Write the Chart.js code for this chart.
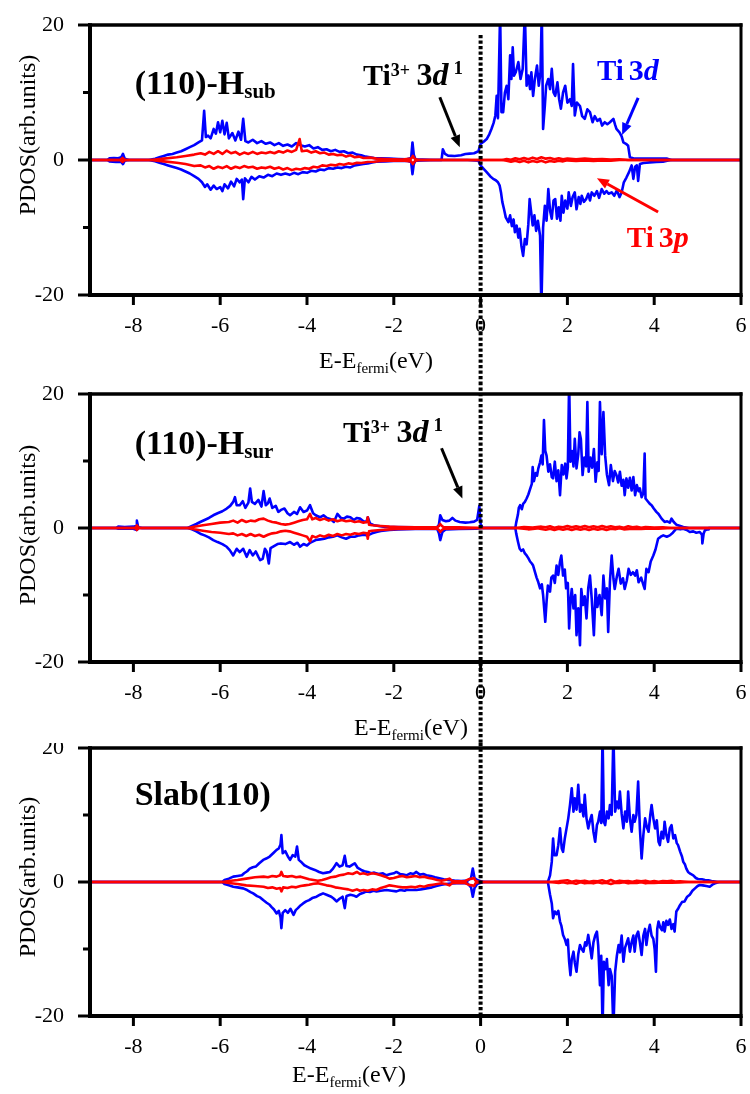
<!DOCTYPE html>
<html>
<head>
<meta charset="utf-8">
<script src="https://cdn.jsdelivr.net/npm/chart.js@4.4.1/dist/chart.umd.min.js"></script>
<style>
  html, body { margin: 0; padding: 0; background: #fff; }
  #wrap { width: 750px; height: 1094px; overflow: hidden; }
  canvas { display: block; }
</style>
</head>
<body>
<div id="wrap">
  <canvas id="c1" width="750" height="382"></canvas>
  <canvas id="c2" width="750" height="361"></canvas>
  <canvas id="c3" width="750" height="351"></canvas>
</div>
<script>
// axis ticks
const xTicks = [-8, -6, -4, -2, 0, 2, 4, 6];
const yTicks = [-20, -10, 0, 10, 20];
const yLabelled = [-20, 0, 20];

// ---- (110)-Hsub : [E - Efermi (eV), PDOS] ----
const subD_up = [[-9,0],[-8.6,0],[-8.55,0.25],[-8.45,0.3],[-8.35,0.25],[-8.28,0.4],[-8.24,0.9],[-8.2,0.2],[-8.1,0],[-7.65,0],
  [-7.5,0.2],[-7.4,0.4],[-7.3,0.6],[-7.2,0.8],[-7.1,0.9],[-7.0,1.1],[-6.9,1.3],[-6.8,1.6],[-6.7,1.9],[-6.6,2.2],[-6.5,2.6],[-6.42,2.9],[-6.37,7.3],[-6.33,3.4],[-6.28,3.6],[-6.22,3.2],[-6.15,4.6],[-6.1,3.9],[-6.05,5.6],[-6.0,4.1],[-5.95,5.8],[-5.9,3.8],[-5.85,5.5],[-5.8,3.2],[-5.72,4.0],[-5.65,2.9],[-5.58,4.2],[-5.52,3.0],[-5.47,6.1],[-5.42,2.8],[-5.35,2.6],[-5.25,3.0],[-5.15,2.5],[-5.05,2.8],[-4.95,2.4],[-4.85,2.6],[-4.75,2.2],[-4.65,2.5],[-4.55,2.1],[-4.45,2.3],[-4.35,2.0],[-4.25,2.5],[-4.15,2.2],[-4.05,2.0],[-3.95,2.2],[-3.85,1.7],[-3.75,1.9],[-3.65,1.5],[-3.55,1.6],[-3.45,1.3],[-3.35,1.5],[-3.25,1.2],[-3.15,1.3],[-3.05,1.0],[-2.95,1.1],[-2.85,0.8],[-2.75,0.7],[-2.65,0.5],[-2.55,0.4],[-2.45,0.3],[-2.3,0.25],[-2.1,0.2],[-1.9,0.15],[-1.7,0.1],[-1.6,0.3],[-1.57,2.6],[-1.54,0.8],[-1.5,0.1],[-1.0,0],[-0.9,0],[-0.87,1.6],[-0.82,0.9],[-0.75,0.65],[-0.6,0.6],[-0.45,0.7],[-0.35,0.9],[-0.25,0.95],[-0.15,1.0],[-0.05,1.3],
  [0,2.4],[0.07,2.7],[0.14,3.1],[0.2,3.8],[0.25,4.6],[0.3,5.5],[0.34,6.6],[0.37,9.5],[0.4,6.2],[0.45,22],[0.48,7.1],[0.52,7.1],[0.56,10],[0.6,11],[0.64,9],[0.68,15.5],[0.71,12],[0.74,16.7],[0.77,12.5],[0.81,13],[0.87,14.5],[0.92,12],[0.97,13.5],[1.02,22],[1.06,11],[1.1,12.5],[1.14,10.5],[1.17,13],[1.21,9.5],[1.25,12],[1.3,14],[1.34,11],[1.38,13],[1.41,22],[1.44,4.6],[1.48,8],[1.51,11],[1.56,12],[1.6,10.5],[1.64,13.5],[1.68,10],[1.72,9.5],[1.77,11.5],[1.81,9],[1.85,7.6],[1.9,10],[1.95,11],[2.0,8.5],[2.06,9],[2.1,8],[2.13,14.2],[2.17,6.6],[2.22,8.5],[2.29,8],[2.34,6.5],[2.4,6.1],[2.46,7.5],[2.52,7.1],[2.58,5.6],[2.63,6.5],[2.69,5.8],[2.75,6.1],[2.8,5.1],[2.86,5.6],[2.92,5.3],[2.98,5.6],[3.06,6.1],[3.1,5.2],[3.13,4.6],[3.2,4.1],[3.25,3.5],[3.29,2.6],[3.35,2.4],[3.4,2.1],[3.44,0.4],[3.55,0.2],[4.3,0.2],[4.4,0],[6,0]];
const subD_dn = [[-9,0],[-8.6,0],[-8.55,-0.2],[-8.4,-0.3],[-8.28,-0.3],[-8.24,-0.6],[-8.2,-0.1],[-8.1,0],[-7.65,0],
  [-7.5,-0.2],[-7.4,-0.4],[-7.3,-0.6],[-7.2,-0.8],[-7.1,-1.0],[-7.0,-1.2],[-6.9,-1.4],[-6.8,-1.7],[-6.7,-2.0],[-6.6,-2.4],[-6.5,-2.8],[-6.42,-3.3],[-6.35,-4.0],[-6.3,-3.6],[-6.22,-4.4],[-6.15,-3.8],[-6.08,-4.3],[-6.0,-4.0],[-5.95,-4.6],[-5.9,-3.6],[-5.82,-4.2],[-5.75,-3.2],[-5.68,-3.9],[-5.62,-2.8],[-5.55,-3.3],[-5.5,-2.9],[-5.47,-5.8],[-5.43,-2.7],[-5.35,-3.3],[-5.28,-2.5],[-5.2,-2.9],[-5.1,-2.4],[-5.0,-2.6],[-4.9,-2.2],[-4.8,-2.4],[-4.7,-2.0],[-4.6,-2.2],[-4.5,-2.0],[-4.4,-2.2],[-4.3,-1.9],[-4.2,-2.1],[-4.1,-1.8],[-4.0,-1.9],[-3.9,-1.6],[-3.8,-1.7],[-3.7,-1.4],[-3.6,-1.5],[-3.5,-1.2],[-3.4,-1.3],[-3.3,-1.1],[-3.2,-1.2],[-3.1,-1.0],[-3.0,-1.1],[-2.9,-0.8],[-2.8,-0.7],[-2.7,-0.6],[-2.6,-0.5],[-2.5,-0.35],[-2.4,-0.25],[-2.2,-0.2],[-2.0,-0.15],[-1.7,-0.1],[-1.6,-0.3],[-1.57,-2.1],[-1.54,-0.6],[-1.5,-0.1],[-1.0,0],[-0.3,0],[-0.05,-0.1],
  [0,-0.8],[0.07,-1.3],[0.14,-1.8],[0.22,-2.4],[0.29,-2.8],[0.35,-3.0],[0.4,-3.3],[0.44,-3.8],[0.47,-4.8],[0.5,-6.2],[0.54,-7.3],[0.58,-8.5],[0.64,-9.2],[0.68,-8.2],[0.72,-9.8],[0.76,-8.8],[0.79,-10.7],[0.83,-9.7],[0.87,-11.5],[0.9,-10.2],[0.94,-12.7],[0.98,-14.2],[1.02,-11.7],[1.06,-12.5],[1.1,-9.5],[1.13,-5.8],[1.17,-8],[1.2,-9.7],[1.24,-8.2],[1.28,-10.5],[1.32,-9],[1.37,-11.2],[1.4,-22],[1.44,-10],[1.48,-6.8],[1.52,-9],[1.56,-4.3],[1.6,-7.5],[1.64,-8.7],[1.68,-6],[1.72,-5.8],[1.76,-8.7],[1.8,-7],[1.84,-9],[1.87,-5.3],[1.91,-7.8],[1.95,-6],[2.0,-7.2],[2.03,-4.8],[2.08,-6.8],[2.12,-5.5],[2.17,-4.8],[2.21,-7.3],[2.26,-5.5],[2.3,-6.5],[2.33,-5.3],[2.38,-6.2],[2.43,-5.8],[2.48,-5.0],[2.52,-6.0],[2.56,-4.8],[2.62,-5.3],[2.68,-4.6],[2.73,-5.6],[2.79,-4.3],[2.85,-5.0],[2.9,-4.6],[2.95,-5.0],[3.02,-4.8],[3.08,-5.3],[3.14,-4.5],[3.2,-5.5],[3.25,-4.8],[3.3,-3.3],[3.36,-2.6],[3.42,-1.8],[3.48,-0.8],[3.52,-2.8],[3.56,-1.0],[3.6,-0.8],[3.63,-3.1],[3.67,-0.6],[3.75,-0.45],[3.9,-0.35],[4.05,-0.3],[4.2,-0.25],[4.3,-0.1],[4.4,0],[6,0]];
const subP_up = [[-9,0],[-8.3,0],[-8.25,0.3],[-8.2,0],[-7.6,0],[-7.3,0.2],[-7.0,0.4],[-6.8,0.6],[-6.6,0.8],[-6.45,1.0],[-6.35,0.8],[-6.25,1.2],[-6.15,0.9],[-6.05,1.3],[-5.95,0.9],[-5.85,1.4],[-5.75,1.0],[-5.65,1.2],[-5.55,0.8],[-5.45,1.1],[-5.35,0.9],[-5.25,1.2],[-5.15,0.9],[-5.05,1.1],[-4.95,1.0],[-4.85,1.2],[-4.75,1.0],[-4.65,1.3],[-4.55,1.1],[-4.45,1.4],[-4.35,1.2],[-4.25,1.5],[-4.17,3.1],[-4.12,1.3],[-4.0,1.4],[-3.9,1.1],[-3.8,1.3],[-3.7,1.0],[-3.6,1.1],[-3.5,0.8],[-3.4,0.9],[-3.3,0.7],[-3.2,0.8],[-3.1,0.5],[-3.0,0.7],[-2.9,0.4],[-2.8,0.5],[-2.7,0.3],[-2.55,0.35],[-2.4,0.2],[-2.2,0.15],[-2.0,0.1],[-1.8,0.05],[-1.6,0.2],[-1.56,0.6],[-1.52,0.2],[-1.45,0],[0,0],
  [0.5,0],[0.6,0.15],[0.7,0.05],[0.8,0.25],[0.9,0.1],[1.0,0.3],[1.1,0.1],[1.2,0.35],[1.3,0.15],[1.4,0.4],[1.5,0.2],[1.6,0.3],[1.7,0.1],[1.8,0.25],[1.9,0.1],[2.0,0.2],[2.2,0.1],[2.4,0.2],[2.6,0.1],[2.8,0.15],[3.0,0.05],[3.2,0.1],[3.4,0],[6,0]];
const subP_dn = [[-9,0],[-8.3,0],[-8.25,-0.3],[-8.2,0],[-7.6,0],[-7.3,-0.2],[-7.0,-0.4],[-6.8,-0.6],[-6.6,-0.9],[-6.45,-0.8],[-6.35,-1.1],[-6.25,-0.9],[-6.15,-1.3],[-6.05,-1.0],[-5.95,-1.2],[-5.85,-0.9],[-5.75,-1.3],[-5.65,-1.0],[-5.55,-1.2],[-5.45,-0.9],[-5.35,-1.1],[-5.25,-1.0],[-5.15,-1.3],[-5.05,-1.1],[-4.95,-1.2],[-4.85,-1.0],[-4.75,-1.3],[-4.65,-1.1],[-4.55,-1.4],[-4.45,-1.2],[-4.35,-1.5],[-4.25,-1.3],[-4.15,-1.4],[-4.05,-1.2],[-3.95,-1.3],[-3.85,-1.0],[-3.75,-1.1],[-3.65,-0.8],[-3.55,-0.9],[-3.45,-0.7],[-3.35,-0.8],[-3.25,-0.6],[-3.15,-0.7],[-3.05,-0.5],[-2.95,-0.6],[-2.85,-0.4],[-2.75,-0.45],[-2.6,-0.3],[-2.45,-0.25],[-2.3,-0.15],[-2.1,-0.1],[-1.8,-0.05],[-1.6,-0.2],[-1.56,-0.6],[-1.52,-0.2],[-1.45,0],[0,0],
  [0.5,0],[0.6,-0.1],[0.7,-0.25],[0.8,-0.1],[0.9,-0.3],[1.0,-0.1],[1.1,-0.35],[1.2,-0.15],[1.3,-0.3],[1.4,-0.1],[1.5,-0.35],[1.6,-0.15],[1.7,-0.25],[1.8,-0.1],[1.9,-0.2],[2.0,-0.05],[2.2,-0.15],[2.4,-0.05],[2.6,-0.15],[2.8,-0.05],[3.0,-0.1],[3.2,0],[6,0]];

// ---- (110)-Hsur ----
const surD_up = [[-9,0],[-8.4,0],[-8.35,0.2],[-8.2,0.15],[-8.0,0.2],[-7.94,0.3],[-7.92,1.1],[-7.89,0.1],[-7.8,0],[-6.75,0],[-6.65,0.3],[-6.55,0.6],[-6.46,0.9],[-6.36,1.2],[-6.26,1.5],[-6.16,1.9],[-6.06,2.2],[-5.95,2.5],[-5.85,2.9],[-5.77,3.3],[-5.7,3.9],[-5.66,4.6],[-5.62,3.4],[-5.55,3.4],[-5.48,4.0],[-5.42,3.0],[-5.35,3.8],[-5.31,5.9],[-5.27,3.9],[-5.2,3.6],[-5.12,4.2],[-5.05,3.2],[-5.0,5.5],[-4.95,3.4],[-4.9,3.7],[-4.86,4.4],[-4.8,3.0],[-4.72,3.3],[-4.66,2.4],[-4.6,2.7],[-4.52,2.9],[-4.45,2.2],[-4.39,1.9],[-4.3,2.4],[-4.23,2.1],[-4.16,3.1],[-4.08,2.4],[-4.0,2.6],[-3.93,3.4],[-3.86,2.2],[-3.8,1.9],[-3.7,1.6],[-3.62,1.9],[-3.54,1.5],[-3.45,1.3],[-3.38,0.9],[-3.3,2.1],[-3.22,1.5],[-3.15,1.4],[-3.08,1.7],[-3.0,1.6],[-2.92,1.2],[-2.85,1.5],[-2.78,1.4],[-2.7,1.0],[-2.63,0.9],[-2.6,1.6],[-2.55,0.7],[-2.45,0.4],[-2.35,0.3],[-2.2,0.15],[-2.0,0.15],[-1.5,0.1],[-1.0,0.15],[-0.96,0.5],[-0.93,1.9],[-0.88,1.2],[-0.8,1.0],[-0.72,1.1],[-0.65,1.5],[-0.58,1.1],[-0.48,0.9],[-0.35,0.8],[-0.25,0.85],[-0.15,0.95],[-0.08,1.2],[-0.03,3.3],[0.0,0.6],[0.05,0],[0.8,0],
  [0.82,0.8],[0.86,2.0],[0.88,3.0],[0.91,3.4],[0.95,2.8],[0.98,3.6],[1.02,3.9],[1.06,4.4],[1.1,5.0],[1.14,5.8],[1.18,6.6],[1.2,9.1],[1.23,7.0],[1.27,8.2],[1.3,7.8],[1.33,8.9],[1.37,9.8],[1.4,10.8],[1.43,9.5],[1.46,16.1],[1.49,11.5],[1.52,10.8],[1.56,8.4],[1.6,9.5],[1.64,7.6],[1.67,7.4],[1.71,9.9],[1.75,7.0],[1.79,8.6],[1.83,4.9],[1.87,9.4],[1.91,8.0],[1.95,9.6],[1.98,7.4],[2.01,9.0],[2.04,22],[2.07,9.9],[2.11,11.5],[2.14,9.2],[2.17,13.3],[2.21,8.9],[2.25,11.0],[2.28,14.3],[2.31,13.3],[2.35,7.9],[2.39,10.5],[2.43,9.2],[2.46,18.8],[2.49,8.4],[2.53,10.5],[2.57,9.0],[2.61,11.8],[2.65,6.9],[2.69,9.8],[2.72,8.5],[2.75,18.8],[2.79,11],[2.83,17.3],[2.87,10.8],[2.91,8.0],[2.96,6.4],[3.0,9.4],[3.05,7.0],[3.09,8.5],[3.13,7.9],[3.17,6.8],[3.21,8.4],[3.25,6.3],[3.29,7.2],[3.32,4.9],[3.36,7.4],[3.4,6.0],[3.44,7.5],[3.48,5.6],[3.52,7.6],[3.56,4.9],[3.6,6.4],[3.64,5.5],[3.67,5.9],[3.71,4.6],[3.75,5.2],[3.78,11.1],[3.8,4.4],[3.85,4.0],[3.9,3.6],[3.94,3.4],[3.99,2.9],[4.05,2.4],[4.1,2.1],[4.17,1.4],[4.24,0.9],[4.3,1.0],[4.36,0.8],[4.4,1.4],[4.45,0.9],[4.51,0.5],[4.6,0.3],[4.67,0.15],[4.8,0],[6,0]];
const surD_dn = [[-9,0],[-8.4,0],[-8.35,-0.1],[-8.0,-0.1],[-7.92,-0.3],[-7.88,0],[-6.75,0],[-6.65,-0.2],[-6.55,-0.5],[-6.46,-0.85],[-6.36,-1.1],[-6.26,-1.4],[-6.16,-1.8],[-6.06,-2.1],[-5.95,-2.4],[-5.85,-2.8],[-5.78,-3.3],[-5.7,-4.1],[-5.62,-3.1],[-5.55,-3.6],[-5.47,-3.1],[-5.39,-4.3],[-5.32,-3.3],[-5.25,-4.1],[-5.18,-3.5],[-5.12,-4.3],[-5.08,-4.8],[-5.02,-4.6],[-4.97,-3.1],[-4.93,-3.5],[-4.88,-5.3],[-4.84,-3.0],[-4.76,-2.7],[-4.68,-2.4],[-4.6,-2.3],[-4.5,-2.4],[-4.39,-2.1],[-4.3,-2.5],[-4.22,-2.2],[-4.16,-2.8],[-4.08,-2.4],[-4.0,-2.6],[-3.93,-2.2],[-3.86,-2.0],[-3.8,-1.8],[-3.7,-1.7],[-3.6,-1.6],[-3.5,-1.4],[-3.4,-1.3],[-3.3,-1.1],[-3.2,-1.4],[-3.1,-1.6],[-3.0,-1.3],[-2.9,-1.3],[-2.8,-1.1],[-2.7,-1.0],[-2.6,-1.1],[-2.5,-0.8],[-2.4,-0.6],[-2.3,-0.45],[-2.1,-0.3],[-1.9,-0.2],[-1.5,-0.15],[-1.0,-0.15],[-0.96,-0.8],[-0.93,-1.8],[-0.88,-0.6],[-0.8,-0.2],[-0.5,-0.15],[-0.1,-0.1],[0.05,0],[0.8,0],
  [0.82,-0.8],[0.86,-2.0],[0.9,-3.1],[0.94,-3.4],[0.98,-3.2],[1.02,-3.8],[1.06,-4.1],[1.1,-4.5],[1.14,-5.0],[1.18,-5.3],[1.21,-5.6],[1.25,-6.5],[1.29,-7.4],[1.33,-8.1],[1.37,-9.0],[1.41,-8.4],[1.44,-10],[1.49,-14],[1.52,-11],[1.55,-8.6],[1.6,-9.5],[1.63,-7.4],[1.67,-7.1],[1.71,-8.2],[1.75,-5.6],[1.79,-7.0],[1.83,-5.0],[1.86,-4.1],[1.9,-7.1],[1.94,-6.2],[1.97,-9.0],[2.01,-8.2],[2.04,-15],[2.07,-11],[2.1,-9.1],[2.14,-12],[2.18,-10],[2.21,-16],[2.25,-12],[2.29,-17.5],[2.32,-9.1],[2.36,-11.5],[2.4,-10.2],[2.44,-13.5],[2.48,-9.0],[2.52,-7.1],[2.56,-10.5],[2.61,-16],[2.65,-9.1],[2.69,-11.8],[2.74,-10],[2.79,-13],[2.83,-7.1],[2.87,-10.5],[2.91,-9],[2.94,-15.5],[2.98,-8],[3.02,-4.1],[3.06,-7.5],[3.09,-9.1],[3.14,-7.2],[3.18,-6.1],[3.23,-8.3],[3.28,-7.5],[3.32,-9.1],[3.37,-7.8],[3.41,-6.1],[3.46,-7.0],[3.51,-6.6],[3.56,-7.1],[3.6,-6.3],[3.64,-8.1],[3.7,-7.4],[3.75,-8.5],[3.78,-9.1],[3.82,-6.1],[3.87,-6.6],[3.92,-5.0],[3.98,-4.1],[4.03,-3.2],[4.09,-1.6],[4.15,-1.3],[4.21,-1.1],[4.29,-1.3],[4.36,-1.1],[4.43,-0.7],[4.51,-0.1],[4.6,-0.2],[4.67,-0.1],[4.75,-0.3],[4.82,-0.6],[4.9,-0.5],[4.97,-0.7],[5.05,-0.6],[5.1,-1.0],[5.11,-2.3],[5.14,-0.8],[5.17,-0.35],[5.24,-0.2],[5.26,0],[6,0]];
const surP_up = [[-9,0],[-7.95,0],[-7.92,0.4],[-7.88,0],[-6.75,0],[-6.6,0.2],[-6.4,0.4],[-6.2,0.6],[-6.0,0.8],[-5.8,0.9],[-5.7,1.1],[-5.6,0.8],[-5.5,1.2],[-5.4,0.9],[-5.3,1.1],[-5.2,1.0],[-5.1,1.3],[-5.0,1.4],[-4.9,1.1],[-4.8,0.9],[-4.7,0.8],[-4.6,0.6],[-4.5,0.5],[-4.4,0.6],[-4.3,0.8],[-4.2,1.0],[-4.1,1.2],[-4.0,1.3],[-3.93,2.1],[-3.88,1.3],[-3.8,1.5],[-3.7,1.2],[-3.6,1.4],[-3.5,1.1],[-3.4,1.3],[-3.3,1.0],[-3.2,1.2],[-3.1,1.0],[-3.0,1.1],[-2.9,0.9],[-2.8,1.0],[-2.7,0.8],[-2.62,0.9],[-2.6,1.6],[-2.57,0.5],[-2.5,0.4],[-2.3,0.3],[-2.1,0.2],[-1.9,0.15],[-1.5,0.1],[-1.0,0.1],[-0.96,0.3],[-0.93,0.6],[-0.89,0.3],[-0.85,0.1],[-0.5,0.1],[0,0],[0.8,0],
  [1.0,0.15],[1.2,0.05],[1.4,0.2],[1.5,0.1],[1.6,0.25],[1.7,0.05],[1.8,0.2],[1.9,0.1],[2.0,0.3],[2.1,0.1],[2.2,0.25],[2.3,0.1],[2.4,0.3],[2.5,0.1],[2.6,0.25],[2.7,0.1],[2.8,0.3],[2.9,0.1],[3.0,0.25],[3.1,0.1],[3.2,0.2],[3.3,0.05],[3.4,0.25],[3.5,0.1],[3.6,0.2],[3.7,0.05],[3.8,0.15],[4.0,0.05],[4.2,0.1],[4.4,0],[6,0]];
const surP_dn = [[-9,0],[-7.95,0],[-7.92,-0.3],[-7.88,0],[-6.75,0],[-6.6,-0.2],[-6.4,-0.4],[-6.2,-0.6],[-6.0,-0.7],[-5.8,-0.9],[-5.7,-0.8],[-5.6,-1.1],[-5.5,-0.9],[-5.4,-1.2],[-5.3,-0.9],[-5.2,-1.2],[-5.1,-1.0],[-5.0,-1.3],[-4.9,-1.0],[-4.8,-0.8],[-4.7,-0.7],[-4.6,-0.5],[-4.5,-0.4],[-4.4,-0.5],[-4.3,-0.7],[-4.2,-0.9],[-4.1,-1.1],[-4.0,-1.3],[-3.93,-2.0],[-3.88,-1.2],[-3.8,-1.4],[-3.7,-1.1],[-3.6,-1.3],[-3.5,-1.0],[-3.4,-1.2],[-3.3,-0.9],[-3.2,-1.1],[-3.1,-0.9],[-3.0,-1.0],[-2.9,-0.8],[-2.8,-0.9],[-2.7,-0.7],[-2.62,-0.8],[-2.6,-1.6],[-2.57,-0.5],[-2.5,-0.4],[-2.3,-0.3],[-2.1,-0.2],[-1.9,-0.15],[-1.5,-0.1],[-1.0,-0.1],[-0.96,-0.3],[-0.93,-0.6],[-0.89,-0.3],[-0.85,-0.1],[-0.5,-0.05],[0,0],[0.8,0],
  [1.0,-0.1],[1.1,-0.2],[1.3,-0.05],[1.5,-0.25],[1.6,-0.1],[1.7,-0.3],[1.8,-0.1],[1.9,-0.25],[2.0,-0.1],[2.1,-0.3],[2.2,-0.1],[2.3,-0.25],[2.4,-0.1],[2.5,-0.3],[2.6,-0.1],[2.7,-0.25],[2.8,-0.1],[2.9,-0.3],[3.0,-0.1],[3.1,-0.2],[3.2,-0.05],[3.3,-0.2],[3.5,-0.1],[3.7,-0.15],[3.9,-0.05],[4.1,-0.1],[4.4,0],[6,0]];

// ---- Slab(110) ----
const slabD_up = [[-9,0],[-5.95,0],[-5.9,0.3],[-5.8,0.5],[-5.7,0.8],[-5.6,0.9],[-5.5,1.0],[-5.45,1.3],[-5.38,1.6],[-5.32,2.0],[-5.25,2.2],[-5.18,2.3],[-5.1,2.8],[-5.01,3.3],[-4.94,3.5],[-4.86,3.8],[-4.78,4.3],[-4.7,4.8],[-4.65,5.0],[-4.61,5.6],[-4.59,7.0],[-4.56,4.3],[-4.5,4.6],[-4.44,3.8],[-4.39,3.3],[-4.33,4.0],[-4.27,3.8],[-4.23,5.3],[-4.19,3.3],[-4.12,2.9],[-4.06,2.5],[-4.0,2.3],[-3.91,2.0],[-3.82,1.8],[-3.72,1.5],[-3.63,1.3],[-3.55,1.4],[-3.47,1.5],[-3.4,2.0],[-3.32,2.8],[-3.25,2.3],[-3.18,2.5],[-3.13,3.9],[-3.09,2.4],[-3.02,2.3],[-2.95,2.6],[-2.9,2.8],[-2.83,2.1],[-2.75,1.8],[-2.68,1.6],[-2.6,1.5],[-2.52,1.3],[-2.45,1.4],[-2.35,1.2],[-2.25,1.3],[-2.17,1.0],[-2.08,1.2],[-2.0,1.3],[-1.94,1.5],[-1.86,1.2],[-1.78,1.1],[-1.71,1.0],[-1.62,1.3],[-1.55,1.2],[-1.48,1.5],[-1.4,1.1],[-1.32,1.2],[-1.25,1.0],[-1.15,0.9],[-1.05,0.7],[-0.95,0.55],[-0.85,0.4],[-0.75,0.3],[-0.6,0.2],[-0.45,0.15],[-0.3,0.2],[-0.22,0.6],[-0.18,2.0],[-0.14,0.6],[-0.08,0.3],[0,0.1],[0.1,0],[1.55,0],
  [1.6,1.0],[1.64,3.0],[1.67,6.5],[1.7,4.0],[1.75,4.0],[1.79,5.5],[1.83,8.0],[1.87,5.0],[1.9,4.5],[1.94,6.5],[1.98,8.0],[2.02,9.5],[2.06,11.5],[2.1,14.0],[2.14,10.5],[2.17,12.5],[2.21,10.8],[2.25,14.5],[2.29,10.5],[2.33,11.5],[2.37,9.8],[2.4,13.0],[2.44,9.5],[2.48,8.0],[2.52,9.2],[2.56,10.0],[2.6,7.5],[2.64,6.0],[2.68,8.5],[2.71,9.0],[2.75,10.5],[2.78,8.8],[2.81,22],[2.84,9.0],[2.87,8.5],[2.91,10.5],[2.95,9.5],[2.98,11.5],[3.02,10.0],[3.06,22],[3.1,10.5],[3.14,12.0],[3.18,11.0],[3.21,13.5],[3.25,10.2],[3.29,8.0],[3.33,10.5],[3.37,9.0],[3.4,13.5],[3.44,9.5],[3.48,7.5],[3.52,10.0],[3.55,9.0],[3.59,10.0],[3.63,15.0],[3.67,8.0],[3.71,3.5],[3.75,7.0],[3.79,9.5],[3.83,8.2],[3.87,7.5],[3.91,10.0],[3.94,11.5],[3.98,9.5],[4.02,8.0],[4.06,9.2],[4.1,6.0],[4.13,5.5],[4.17,7.5],[4.21,6.5],[4.24,9.0],[4.28,7.0],[4.32,6.0],[4.36,8.0],[4.4,8.5],[4.44,6.5],[4.48,7.0],[4.52,5.8],[4.55,5.5],[4.6,4.5],[4.64,3.8],[4.67,3.0],[4.71,2.6],[4.74,2.0],[4.78,1.5],[4.84,1.2],[4.9,1.0],[4.96,0.6],[5.01,0.45],[5.1,0.4],[5.17,0.3],[5.25,0.25],[5.32,0.15],[5.44,0.05],[5.5,0],[6,0]];
const slabD_dn = [[-9,0],[-5.95,0],[-5.9,-0.3],[-5.8,-0.5],[-5.7,-0.7],[-5.6,-0.8],[-5.47,-0.95],[-5.38,-1.2],[-5.3,-1.5],[-5.24,-1.7],[-5.15,-2.1],[-5.08,-2.3],[-5.01,-2.7],[-4.93,-3.1],[-4.86,-3.4],[-4.82,-3.7],[-4.76,-4.1],[-4.7,-4.7],[-4.65,-4.3],[-4.61,-5.3],[-4.59,-6.9],[-4.56,-4.6],[-4.5,-4.2],[-4.44,-4.6],[-4.38,-4.0],[-4.31,-4.9],[-4.26,-4.2],[-4.21,-3.9],[-4.15,-3.5],[-4.09,-3.2],[-4.02,-2.9],[-3.95,-2.7],[-3.88,-2.4],[-3.78,-2.2],[-3.7,-1.9],[-3.63,-1.7],[-3.55,-1.9],[-3.44,-2.2],[-3.38,-2.5],[-3.32,-2.9],[-3.25,-2.5],[-3.18,-2.2],[-3.13,-3.9],[-3.09,-2.1],[-3.0,-1.9],[-2.93,-2.0],[-2.86,-2.2],[-2.78,-1.8],[-2.7,-1.6],[-2.63,-1.4],[-2.55,-1.5],[-2.47,-1.3],[-2.4,-1.4],[-2.3,-1.3],[-2.17,-1.2],[-2.05,-1.3],[-1.94,-1.4],[-1.85,-1.2],[-1.75,-1.3],[-1.71,-1.2],[-1.6,-1.2],[-1.48,-1.2],[-1.38,-1.1],[-1.25,-0.95],[-1.12,-0.8],[-1.02,-0.6],[-0.9,-0.4],[-0.79,-0.3],[-0.65,-0.2],[-0.45,-0.15],[-0.3,-0.2],[-0.22,-0.8],[-0.18,-2.2],[-0.14,-0.9],[-0.08,-0.3],[0,-0.1],[0.1,0],[1.55,0],
  [1.6,-1.9],[1.64,-3.2],[1.67,-5.4],[1.71,-4.4],[1.75,-4.8],[1.79,-4.3],[1.83,-5.9],[1.86,-6.5],[1.9,-7.9],[1.94,-8.5],[1.98,-9.4],[2.01,-8.6],[2.04,-11.9],[2.07,-13.9],[2.1,-11.5],[2.14,-10.4],[2.17,-12.0],[2.21,-13.4],[2.25,-10.8],[2.29,-9.4],[2.33,-10.0],[2.37,-10.4],[2.41,-9.0],[2.44,-9.5],[2.48,-7.9],[2.52,-9.6],[2.56,-11.4],[2.6,-9.0],[2.64,-8.0],[2.68,-7.4],[2.71,-9.5],[2.75,-15.4],[2.78,-11.0],[2.81,-22],[2.84,-11.9],[2.88,-13.0],[2.91,-11.5],[2.95,-15.4],[2.98,-13.0],[3.02,-14.0],[3.06,-22],[3.1,-13.4],[3.14,-11.0],[3.18,-9.4],[3.21,-10.5],[3.25,-8.0],[3.29,-11.9],[3.33,-9.8],[3.37,-9.0],[3.4,-8.4],[3.44,-10.4],[3.48,-9.0],[3.52,-8.0],[3.55,-10.4],[3.59,-8.0],[3.63,-7.4],[3.67,-9.0],[3.71,-10.9],[3.75,-8.0],[3.79,-7.0],[3.82,-9.4],[3.86,-7.5],[3.9,-6.4],[3.94,-8.0],[3.98,-8.5],[4.01,-10.0],[4.04,-13.4],[4.07,-7.0],[4.1,-5.9],[4.14,-6.8],[4.18,-7.2],[4.21,-6.0],[4.24,-7.4],[4.28,-5.8],[4.32,-6.4],[4.36,-5.6],[4.4,-7.0],[4.44,-6.3],[4.47,-7.4],[4.51,-4.4],[4.55,-4.0],[4.59,-3.5],[4.64,-3.0],[4.7,-2.9],[4.76,-2.2],[4.82,-1.9],[4.88,-1.3],[4.94,-0.95],[5.0,-0.6],[5.05,-0.45],[5.12,-0.5],[5.2,-0.6],[5.28,-0.7],[5.34,-0.4],[5.4,-0.2],[5.44,-0.1],[5.5,0],[6,0]];
const slabP_up = [[-9,0],[-5.95,0],[-5.8,0.15],[-5.6,0.3],[-5.4,0.5],[-5.2,0.7],[-5.0,0.8],[-4.9,0.7],[-4.8,0.9],[-4.7,0.8],[-4.62,1.0],[-4.59,1.5],[-4.55,0.9],[-4.45,0.8],[-4.35,0.9],[-4.25,0.7],[-4.15,0.8],[-4.05,0.6],[-3.95,0.4],[-3.85,0.3],[-3.75,0.2],[-3.65,0.3],[-3.55,0.5],[-3.45,0.7],[-3.35,0.8],[-3.25,1.0],[-3.15,1.1],[-3.05,1.3],[-2.95,1.2],[-2.85,1.5],[-2.78,1.2],[-2.7,1.3],[-2.6,1.1],[-2.5,1.3],[-2.4,1.2],[-2.3,1.0],[-2.2,0.8],[-2.1,0.5],[-2.0,0.6],[-1.9,0.8],[-1.8,0.9],[-1.7,0.7],[-1.6,0.8],[-1.5,0.9],[-1.4,0.7],[-1.3,0.8],[-1.2,0.6],[-1.1,0.5],[-1.0,0.3],[-0.9,0.2],[-0.8,0.35],[-0.72,0.5],[-0.65,0.15],[-0.5,0.1],[-0.35,0.15],[-0.28,0.4],[-0.2,0.5],[-0.15,0.6],[-0.12,0.2],[-0.05,0],[1.6,0],
  [1.8,0.1],[2.0,0.25],[2.1,0.05],[2.2,0.2],[2.3,0.1],[2.4,0.2],[2.5,0.05],[2.6,0.15],[2.7,0.1],[2.8,0.25],[2.9,0.05],[3.0,0.3],[3.1,0.05],[3.2,0.2],[3.3,0.1],[3.4,0.15],[3.5,0.05],[3.6,0.2],[3.7,0.1],[3.8,0.2],[3.9,0.05],[4.0,0.15],[4.1,0.05],[4.2,0.15],[4.3,0.1],[4.4,0.2],[4.5,0.05],[4.6,0.1],[4.8,0],[6,0]];
const slabP_dn = [[-9,0],[-5.95,0],[-5.8,-0.15],[-5.6,-0.3],[-5.4,-0.5],[-5.2,-0.6],[-5.0,-0.7],[-4.9,-0.9],[-4.8,-0.8],[-4.7,-1.0],[-4.62,-0.9],[-4.59,-1.4],[-4.55,-0.8],[-4.45,-0.9],[-4.35,-0.7],[-4.25,-0.8],[-4.15,-0.6],[-4.05,-0.5],[-3.95,-0.4],[-3.85,-0.25],[-3.75,-0.2],[-3.65,-0.35],[-3.55,-0.5],[-3.45,-0.6],[-3.35,-0.8],[-3.25,-0.9],[-3.15,-1.0],[-3.05,-1.1],[-2.95,-1.3],[-2.85,-1.1],[-2.78,-1.3],[-2.7,-1.2],[-2.6,-1.3],[-2.5,-1.1],[-2.4,-1.2],[-2.3,-0.9],[-2.2,-0.7],[-2.1,-0.5],[-2.0,-0.6],[-1.9,-0.7],[-1.8,-0.8],[-1.7,-0.8],[-1.6,-0.7],[-1.5,-0.8],[-1.4,-0.6],[-1.3,-0.7],[-1.2,-0.5],[-1.1,-0.4],[-1.0,-0.3],[-0.9,-0.2],[-0.8,-0.3],[-0.72,-0.5],[-0.65,-0.15],[-0.5,-0.1],[-0.35,-0.15],[-0.28,-0.4],[-0.2,-0.5],[-0.15,-0.6],[-0.12,-0.2],[-0.05,0],[1.6,0],
  [1.8,-0.15],[1.9,-0.05],[2.0,-0.2],[2.1,-0.1],[2.2,-0.25],[2.3,-0.05],[2.4,-0.2],[2.5,-0.1],[2.6,-0.2],[2.7,-0.05],[2.8,-0.2],[2.9,-0.1],[3.0,-0.3],[3.1,-0.1],[3.2,-0.15],[3.3,-0.05],[3.4,-0.2],[3.5,-0.1],[3.6,-0.15],[3.7,-0.05],[3.8,-0.2],[3.9,-0.1],[4.0,-0.15],[4.2,-0.05],[4.4,-0.1],[4.6,-0.05],[4.8,0],[6,0]];

const BLUE = '#0000ff';
const RED = '#ff0000';
const SERIF = '"Liberation Serif", "Times New Roman", "DejaVu Serif", serif';
const B = s => 'bold ' + s + 'px ' + SERIF;
const BI = s => 'italic bold ' + s + 'px ' + SERIF;
const R = s => s + 'px ' + SERIF;

function seg(ctx, x1, y1, x2, y2, w) {
  ctx.lineWidth = w;
  ctx.beginPath();
  ctx.moveTo(x1, y1);
  ctx.lineTo(x2, y2);
  ctx.stroke();
}

// runs: [text, font, baseline shift]
function richText(ctx, x, y, runs, color, center) {
  ctx.fillStyle = color;
  ctx.textAlign = 'left';
  ctx.textBaseline = 'alphabetic';
  let w = 0;
  runs.forEach(r => { ctx.font = r[1]; w += ctx.measureText(r[0]).width; });
  let cx = center ? x - w / 2 : x;
  runs.forEach(r => {
    ctx.font = r[1];
    ctx.fillText(r[0], cx, y + (r[2] || 0));
    cx += ctx.measureText(r[0]).width;
  });
}

function arrow(ctx, x1, y1, x2, y2, color) {
  const ang = Math.atan2(y2 - y1, x2 - x1);
  const hl = 12, hw = 5;
  const bx = x2 - hl * Math.cos(ang), by = y2 - hl * Math.sin(ang);
  ctx.strokeStyle = color;
  ctx.fillStyle = color;
  ctx.lineCap = 'butt';
  seg(ctx, x1, y1, bx, by, 3);
  ctx.beginPath();
  ctx.moveTo(x2, y2);
  ctx.lineTo(bx + hw * Math.sin(ang), by - hw * Math.cos(ang));
  ctx.lineTo(bx - hw * Math.sin(ang), by + hw * Math.cos(ang));
  ctx.closePath();
  ctx.fill();
}

function makeDecor(p) {
  return {
    id: 'decor',
    afterDraw(chart) {
      const { ctx, chartArea: a, scales } = chart;
      const X = v => scales.x.getPixelForValue(v);
      const Y = v => scales.y.getPixelForValue(v);
      ctx.save();
      ctx.strokeStyle = '#000';
      ctx.lineCap = 'butt';
      // frame
      seg(ctx, a.left, a.top - 1.75, a.left, a.bottom + 2, 4);
      seg(ctx, a.left - 2, a.bottom, a.right + 1.5, a.bottom, 4);
      seg(ctx, a.left - 2, a.top, a.right + 1.5, a.top, 3.5);
      seg(ctx, a.right, a.top - 1.75, a.right, a.bottom + 2, 3);
      // tick marks
      yTicks.forEach(v => seg(ctx, a.left - (yLabelled.includes(v) ? 12 : 7), Y(v), a.left, Y(v), 3));
      xTicks.forEach(v => seg(ctx, X(v), a.bottom, X(v), a.bottom + 10, 3));
      // dotted Fermi level
      ctx.setLineDash([3.3, 2.2]);
      const d0 = p.dotFromCanvasTop ? 0 : a.top + 10;
      const d1 = p.dotToCanvasBottom ? chart.height : a.bottom;
      seg(ctx, X(0), d0, X(0), d1, 4);
      ctx.setLineDash([]);
      // axis titles
      ctx.save();
      ctx.translate(29, (a.top + a.bottom) / 2 + p.yTitleShift);
      ctx.rotate(-Math.PI / 2);
      ctx.fillStyle = '#000';
      ctx.font = R(24);
      ctx.textAlign = 'center';
      ctx.textBaseline = 'middle';
      ctx.fillText('PDOS(arb.units)', 0, 0);
      ctx.restore();
      richText(ctx, (a.left + a.right) / 2 + p.xTitleShift, a.bottom + p.xTitleDrop,
        [['E-E', R(24)], ['fermi', R(15), 5], ['(eV)', R(24)]], '#000', true);
      // panel label
      richText(ctx, X(p.label.at[0]), Y(p.label.at[1]), p.label.runs, '#000', false);
      // annotations
      (p.notes || []).forEach(n => richText(ctx, X(n.at[0]), Y(n.at[1]), n.runs, n.color, false));
      (p.arrows || []).forEach(r => arrow(ctx, X(r.from[0]), Y(r.from[1]), X(r.to[0]), Y(r.to[1]), r.color));
      ctx.restore();
    }
  };
}

function ds(pts, color, order) {
  return {
    data: pts.map(q => ({ x: q[0], y: q[1] })),
    borderColor: color,
    borderWidth: 2.6,
    borderJoinStyle: 'round',
    pointRadius: 0,
    tension: 0,
    fill: false,
    order: order
  };
}

function makeChart(id, p) {
  const canvas = document.getElementById(id);
  return new Chart(canvas, {
    type: 'line',
    data: {
      datasets: [
        ds(p.pUp, RED, 0), ds(p.pDn, RED, 0),
        ds(p.dUp, BLUE, 1), ds(p.dDn, BLUE, 1)
      ]
    },
    options: {
      responsive: false,
      animation: false,
      devicePixelRatio: 1,
      layout: { padding: { top: p.top, right: 9, left: 0, bottom: 0 } },
      plugins: { legend: { display: false }, tooltip: { enabled: false } },
      scales: {
        x: {
          type: 'linear', min: -9, max: 6,
          grid: { display: false }, border: { display: false },
          afterBuildTicks: s => { s.ticks = xTicks.map(v => ({ value: v })); },
          ticks: { font: { family: SERIF, size: 22 }, color: '#000', padding: 10, maxRotation: 0, autoSkip: false },
          afterFit: s => { s.height = canvas.height - p.bottom; s.paddingLeft = 0; s.paddingRight = 0; }
        },
        y: {
          type: 'linear', min: -20, max: 20,
          grid: { display: false }, border: { display: false },
          afterBuildTicks: s => { s.ticks = yTicks.map(v => ({ value: v })); },
          ticks: {
            font: { family: SERIF, size: 22 }, color: '#000', padding: 18, autoSkip: false,
            callback: v => yLabelled.includes(v) ? String(v) : ''
          },
          afterFit: s => { s.width = 90; s.paddingTop = 0; s.paddingBottom = 0; }
        }
      }
    },
    plugins: [makeDecor(p)]
  });
}

const tiLabel = [['Ti', B(30)], ['3+', B(18), -9], [' ', B(26)], ['3', B(32)], ['d', BI(32)], [' ', B(20)], ['1', B(19), -11]];

makeChart('c1', {
  dUp: subD_up, dDn: subD_dn, pUp: subP_up, pDn: subP_dn,
  top: 25, bottom: 295,
  dotFromCanvasTop: false, dotToCanvasBottom: true,
  yTitleShift: -25, xTitleShift: -39.5, xTitleDrop: 73,
  label: { at: [-7.97, 9.8], runs: [['(110)-H', B(34)], ['sub', B(21), 4]] },
  notes: [
    { at: [-2.71, 11.1], runs: tiLabel, color: '#000' },
    { at: [2.68, 11.85], runs: [['Ti', B(29)], [' ', B(20)], ['3', B(30)], ['d', BI(30)]], color: BLUE },
    { at: [3.37, -12.9], runs: [['Ti', B(29)], [' ', B(20)], ['3', B(30)], ['p', BI(30)]], color: RED }
  ],
  arrows: [
    { from: [-0.94, 9.3], to: [-0.48, 1.9], color: '#000' },
    { from: [3.63, 9.2], to: [3.26, 3.7], color: BLUE },
    { from: [4.09, -7.7], to: [2.68, -2.7], color: RED }
  ]
});

makeChart('c2', {
  dUp: surD_up, dDn: surD_dn, pUp: surP_up, pDn: surP_dn,
  top: 12, bottom: 280,
  dotFromCanvasTop: true, dotToCanvasBottom: true,
  yTitleShift: -3, xTitleShift: -4.5, xTitleDrop: 73,
  label: { at: [-7.97, 11.0], runs: [['(110)-H', B(34)], ['sur', B(21), 4]] },
  notes: [
    { at: [-3.17, 12.9], runs: tiLabel, color: '#000' }
  ],
  arrows: [
    { from: [-0.9, 11.9], to: [-0.42, 4.4], color: '#000' }
  ]
});

makeChart('c3', {
  dUp: slabD_up, dDn: slabD_dn, pUp: slabP_up, pDn: slabP_dn,
  top: 5, bottom: 273,
  dotFromCanvasTop: true, dotToCanvasBottom: false,
  yTitleShift: -5, xTitleShift: -66.5, xTitleDrop: 66,
  label: { at: [-7.97, 11.5], runs: [['Slab(110)', B(34)]] },
  notes: [],
  arrows: []
});
</script>
</body>
</html>
